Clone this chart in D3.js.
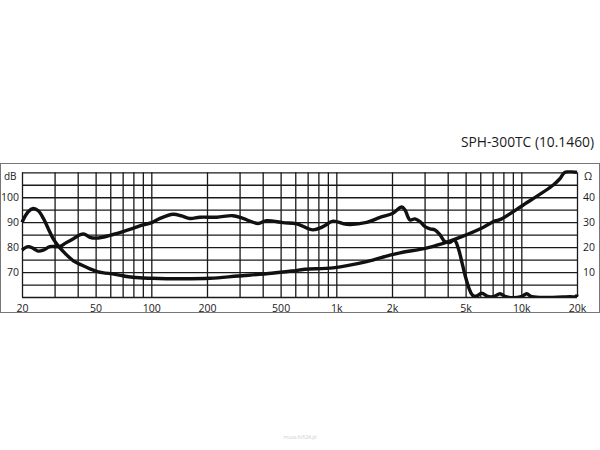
<!DOCTYPE html>
<html><head><meta charset="utf-8">
<script src="https://cdn.jsdelivr.net/npm/d3@7"></script>
<style>body{margin:0;background:#fff}svg{display:block}text{font-family:"Open Sans","Noto Sans",sans-serif}</style>
</head><body><div id="c"></div>
<script>
const title = "SPH-300TC (10.1460)";
const freqTicks = [20, 50, 100, 200, 500, 1000, 2000, 5000, 10000, 20000];
const freqTickLabels = ["20", "50", "100", "200", "500", "1k", "2k", "5k", "10k", "20k"];
const gridFreqs = [20,30,40,50,60,70,80,90,100,200,300,400,500,600,700,800,900,1000,2000,3000,4000,5000,6000,7000,8000,9000,10000,20000];
const dbTicks = [70, 80, 90, 100];
const ohmTicks = [10, 20, 30, 40];
const gridDb = [60,65,70,75,80,85,90,95,100,105,110];

// frequency response (dB)
const respFreq = [20, 21.6, 23.0, 24.5, 26.1, 28.3, 32.1, 34.2, 37.9, 42.9, 46.6, 50.7, 59.8, 70.3, 79.6, 90.2, 100.5, 111.4, 131, 146, 162, 183, 226, 276, 313, 377, 420, 515, 611, 748, 847, 960, 1138, 1460, 1723, 2025, 2257, 2351, 2502, 2662, 2834, 3016, 3210, 3416, 3636, 3868, 4116, 4344, 4566, 4764, 4962, 5216, 5436, 5692, 6110, 6606, 7118, 7672, 8266, 9964, 10694, 11424, 18320, 19750, 20000];
const respDb   = [78.8, 80.2, 79.5, 78.4, 78.8, 80.2, 80.3, 81.5, 83.4, 85.3, 83.9, 83.6, 84.7, 86.2, 87.5, 88.9, 89.8, 91.5, 93.2, 92.5, 91.5, 92.0, 92.0, 92.6, 91.5, 89.5, 90.6, 89.8, 89.3, 86.9, 88.2, 90.4, 89.1, 89.9, 91.9, 93.6, 96.1, 94.9, 90.9, 91.3, 90.2, 88.2, 87.3, 86.9, 84.9, 82.2, 81.9, 82.9, 79.5, 74.2, 68.8, 63.5, 60.8, 60.3, 61.5, 60.2, 60.2, 61.3, 60.1, 60.1, 61.3, 60.1, 60.1, 60.2, 61.0];

// impedance (ohm)
const impFreq = [20, 21.6, 23.0, 24.5, 26.1, 27.7, 29.4, 31.4, 34.2, 37.9, 42.0, 46.6, 51.7, 63.7, 79.6, 100.5, 148, 208, 294, 447, 574, 677, 960, 1460, 1950, 2210, 3142, 4030, 4764, 6208, 7210, 7672, 10250, 14890, 16190, 17220, 20000];
const impOhm  = [30.0, 34.2, 35.5, 34.6, 31.5, 27.5, 23.5, 20.5, 17.5, 14.5, 12.8, 11.3, 10.1, 9.1, 7.9, 7.5, 7.3, 7.5, 8.4, 9.5, 10.4, 11.1, 11.7, 14.2, 16.8, 17.7, 19.8, 22.2, 24.2, 27.9, 30.5, 31.0, 36.9, 44.9, 47.5, 50.0, 50.0];

const W = 600, H = 450;
const L = 22, R = 577, T = 172.3, B = 297;
const svg = d3.select("#c").append("svg").attr("width", W).attr("height", H);

const x = d3.scaleLog().domain([20, 20000]).range([L, R]);
const y = d3.scaleLinear().domain([60, 110]).range([B, T]);
const yo = d3.scaleLinear().domain([0, 50]).range([B, T]);

// outer frame
svg.append("rect").attr("x", 0.5).attr("y", 163.5).attr("width", 599).attr("height", 149)
  .attr("fill", "none").attr("stroke", "#777").attr("stroke-width", 1);

// title
svg.append("text").attr("x", 594).attr("y", 147).attr("text-anchor", "end")
  .attr("font-size", 13.8).attr("fill", "#1a1a1a").attr("font-weight", 500).text(title);

// grid
const grid = svg.append("g");
grid.append("g").attr("transform", `translate(0,${B})`)
  .call(d3.axisBottom(x).tickValues(gridFreqs).tickSize(-(B - T)).tickFormat(""))
  .call(g => g.select(".domain").remove())
  .call(g => g.selectAll("line").attr("stroke", "#1a1a1a").attr("stroke-width", 1.3));
grid.append("g").attr("transform", `translate(${L},0)`)
  .call(d3.axisLeft(y).tickValues(gridDb).tickSize(-(R - L)).tickFormat(""))
  .call(g => g.select(".domain").remove())
  .call(g => g.selectAll("line").attr("stroke", "#1a1a1a").attr("stroke-width", 1.3));

// axes labels
const fmt = d3.scaleOrdinal().domain(freqTicks).range(freqTickLabels);
const lblFont = '"Open Sans","Noto Sans",sans-serif';
svg.append("g").attr("transform", `translate(0,${B})`)
  .call(d3.axisBottom(x).tickValues(freqTicks).tickSize(0).tickPadding(8).tickFormat(d => fmt(d)))
  .call(g => g.select(".domain").remove())
  .call(g => g.selectAll("text").attr("font-size", 10.5).attr("fill", "#1a1a1a").attr("font-weight", 500).attr("font-family", lblFont));
svg.append("g").attr("transform", `translate(${L},0)`)
  .call(d3.axisLeft(y).tickValues(dbTicks).tickSize(0).tickPadding(3))
  .call(g => g.select(".domain").remove())
  .call(g => g.selectAll("text").attr("font-size", 10.5).attr("fill", "#1a1a1a").attr("font-weight", 500).attr("font-family", lblFont));
svg.append("g").attr("transform", `translate(${R},0)`)
  .call(d3.axisRight(yo).tickValues(ohmTicks).tickSize(0).tickPadding(6))
  .call(g => g.select(".domain").remove())
  .call(g => g.selectAll("text").attr("font-size", 10.5).attr("fill", "#1a1a1a").attr("font-weight", 500).attr("font-family", lblFont));
svg.append("text").attr("x", 4).attr("y", 180).attr("font-size", 10).attr("fill", "#1a1a1a").attr("font-weight", 500).text("dB");
svg.append("text").attr("x", 584).attr("y", 180).attr("font-size", 10.5).attr("fill", "#1a1a1a").text("Ω");

// curves
svg.append("defs").append("clipPath").attr("id", "clip")
  .append("rect").attr("x", L - 2).attr("y", T - 2).attr("width", R - L + 4).attr("height", B - T + 2);
const resp = respFreq.map((f, i) => [f, respDb[i]]);
const imp = impFreq.map((f, i) => [f, impOhm[i]]);
const g = svg.append("g").attr("clip-path", "url(#clip)");
g.append("path").datum(resp)
  .attr("d", d3.line().x(d => x(d[0])).y(d => y(d[1])).curve(d3.curveCatmullRom.alpha(0.5)))
  .attr("fill", "none").attr("stroke", "#111").attr("stroke-width", 3.4).attr("stroke-linejoin", "round");
g.append("path").datum(imp)
  .attr("d", d3.line().x(d => x(d[0])).y(d => yo(d[1])).curve(d3.curveCatmullRom.alpha(0.5)))
  .attr("fill", "none").attr("stroke", "#111").attr("stroke-width", 3.4).attr("stroke-linejoin", "round");

// faint watermark
svg.append("text").attr("x", 300).attr("y", 439).attr("text-anchor", "middle")
  .attr("font-size", 5).attr("fill", "#ccc").text("muzo.hifi24.pl");
</script></body></html>
